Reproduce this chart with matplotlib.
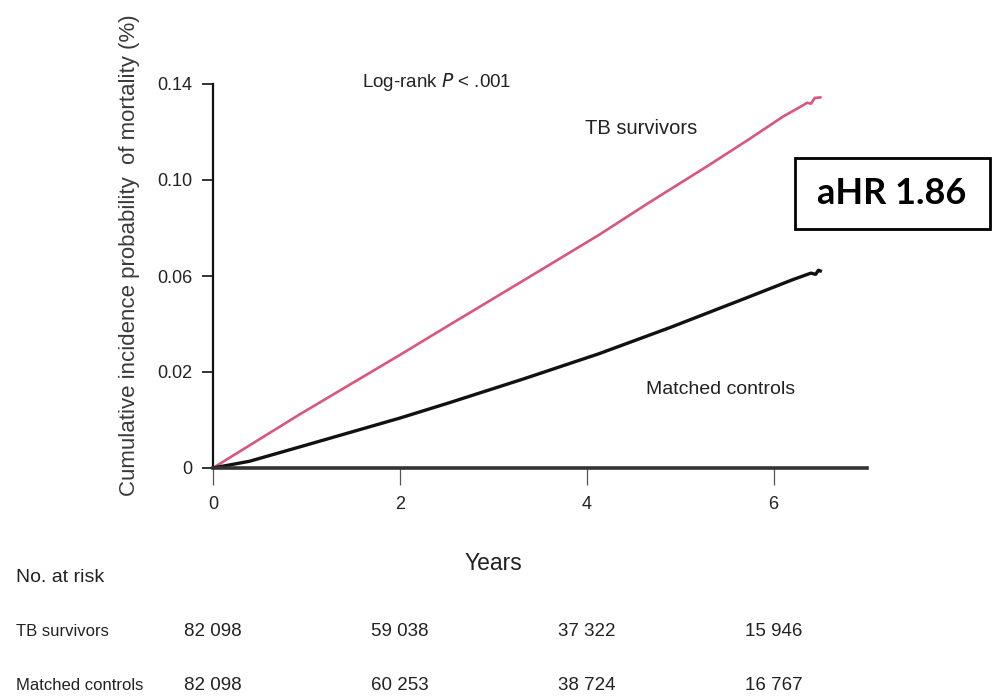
import numpy as np
import matplotlib
matplotlib.use("Agg")
import matplotlib.pyplot as plt
import matplotlib.transforms as mtransforms
from matplotlib.patches import Rectangle

# ---- data ----
tb_years = [0, 0.39, 0.93, 2.0, 2.53, 3.33, 4.13, 4.66, 5.30, 5.73, 6.1, 6.3, 6.36, 6.40, 6.44, 6.5]
tb_cum = [0, 0.0047, 0.0112, 0.0271, 0.0396, 0.0583, 0.0771, 0.0904, 0.1060, 0.1168, 0.1264, 0.1308, 0.1322, 0.1318, 0.1342, 0.1344]
ctrl_years = [0, 0.39, 0.93, 2.0, 2.53, 3.33, 4.13, 4.66, 4.91, 5.73, 6.2, 6.4, 6.45, 6.48, 6.5]
ctrl_cum = [0, 0.0014, 0.0044, 0.0104, 0.0136, 0.0186, 0.0276, 0.0352, 0.0388, 0.0512, 0.0584, 0.0612, 0.0607, 0.0624, 0.0621]
y_ticks = [0, 0.02, 0.06, 0.10, 0.14]
y_tick_labels = ["0", "0.02", "0.06", "0.10", "0.14"]
x_ticks = [0, 2, 4, 6]
risk_groups = ["TB survivors", "Matched controls"]
risk_tb = ["82 098", "59 038", "37 322", "15 946"]
risk_ctrl = ["82 098", "60 253", "38 724", "16 767"]

FONT = ["Liberation Sans", "DejaVu Sans"]
TXT = "#222222"

def fwd(v):
    v = np.asarray(v, dtype=float)
    return np.where(v <= 0.02, v / 0.02, 1 + (v - 0.02) / 0.04)

def inv(p):
    p = np.asarray(p, dtype=float)
    return np.where(p <= 1, p * 0.02, 0.02 + (p - 1) * 0.04)

fig = plt.figure(figsize=(9.97, 7.0), dpi=100)
ax = fig.add_axes([213/997, 1 - 468/700, 654/997, 384/700])
ax.set_yscale("function", functions=(fwd, inv))

ax.plot(tb_years, tb_cum, color="#d9577a", lw=1.9, solid_joinstyle="round")
ax.plot(ctrl_years, ctrl_cum, color="#111111", lw=2.4, solid_joinstyle="round")

ax.set_xlim(0, 7)
ax.set_ylim(0, 0.14)
ax.set_yticks(y_ticks)
ax.set_yticklabels(y_tick_labels)
ax.set_xticks(x_ticks)
ax.set_xticklabels([str(x) for x in x_ticks])
ax.yaxis.set_minor_locator(matplotlib.ticker.NullLocator())

for s in ["top", "right"]:
    ax.spines[s].set_visible(False)
ax.spines["left"].set_linewidth(1.6)
ax.spines["left"].set_color("#111111")
ax.spines["bottom"].set_linewidth(2.6)
ax.spines["bottom"].set_color("#333333")

ax.tick_params(axis="y", direction="out", length=8, width=1.3, pad=7, colors="#222222")
ax.tick_params(axis="x", direction="out", length=12, width=0.9, pad=8, colors="#555555")
for lab in ax.get_xticklabels() + ax.get_yticklabels():
    lab.set_family(FONT)
    lab.set_fontsize(13)
    lab.set_color(TXT)

# y label
fig.text(130/997, 1 - 255/700, "Cumulative incidence probability  of mortality (%)",
         rotation=90, ha="center", va="center", fontsize=16,
         family=FONT, color="#3a3a3a")

# x label
fig.text(493/997, 1 - 563/700, "Years", ha="center", va="center", fontsize=16.5,
         family=FONT, color=TXT)

# annotations in plot
fig.text(362/997, 1 - 82/700, "Log-rank $\\it{P}$ < .001", ha="left", va="center",
         fontsize=13.5, family=FONT, color=TXT)
fig.text(641/997, 1 - 128/700, "TB survivors", ha="center", va="center",
         fontsize=14.5, family=FONT, color=TXT)
fig.text(721/997, 1 - 390/700, "Matched controls", ha="center", va="center",
         fontsize=14, family=FONT, color=TXT)

# aHR box
fig.patches.append(Rectangle((795/997, 1 - 229/700), 195/997, 71/700,
                             transform=fig.transFigure, fill=False,
                             edgecolor="black", lw=2))
fig.text(892/997, 1 - 194/700, "aHR 1.86", ha="center", va="center",
         fontsize=26, fontweight="bold", family=["Lato", "Open Sans", "DejaVu Sans"],
         color="black")

# risk table
fig.text(16/997, 1 - 578/700, "No. at risk", ha="left", va="center",
         fontsize=14, family=FONT, color=TXT)
row_y = [632, 685]
trans = mtransforms.blended_transform_factory(ax.transData, fig.transFigure)
for name, vals, yy in zip(risk_groups, [risk_tb, risk_ctrl], row_y):
    fig.text(16/997, 1 - yy/700, name, ha="left", va="center",
             fontsize=12, family=FONT, color=TXT)
    for xt, v in zip(x_ticks, vals):
        ax.text(xt, 1 - yy/700, v, transform=trans, ha="center", va="center",
                fontsize=13.5, family=FONT, color=TXT, clip_on=False)

fig.savefig("out.png", dpi=100)
